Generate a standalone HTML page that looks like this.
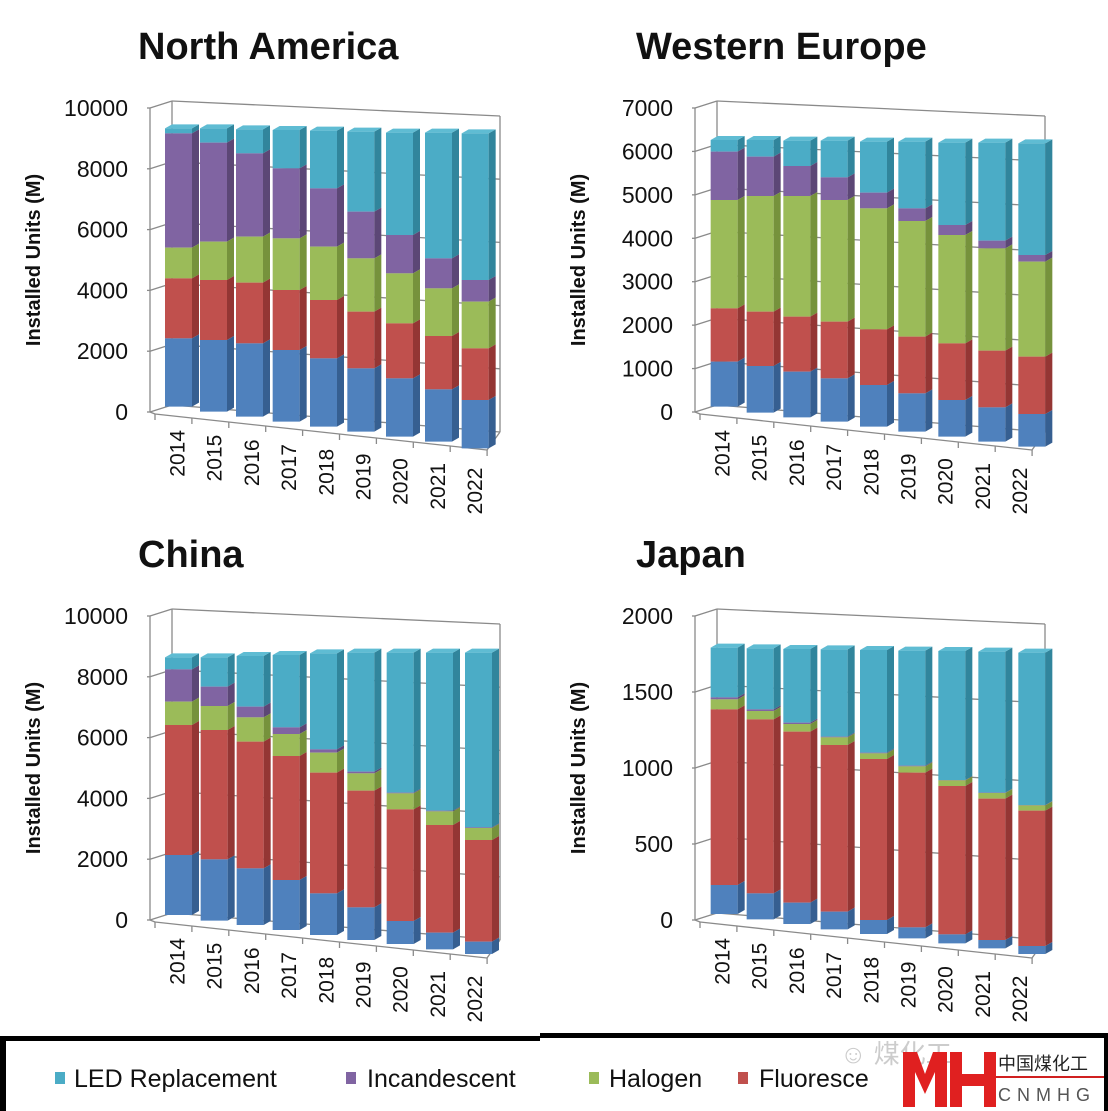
<!DOCTYPE html>
<html><head><meta charset="utf-8"><style>
html,body{margin:0;padding:0;background:#fff;width:1108px;height:1111px;overflow:hidden}
svg{display:block}
text{font-family:"Liberation Sans",sans-serif}
</style></head><body>
<svg id="s" width="1108" height="1111" xmlns="http://www.w3.org/2000/svg"></svg>
<script>
const S=document.getElementById('s');let h='';
const C={c:['#4bacc6','#31859c','#5fbcd3'],p:['#8064a2','#5c4776','#9479b5'],g:['#9bbb59','#76923c','#aecb70'],r:['#c0504d','#943634','#d0625f'],b:['#4f81bd','#365f91','#6690c8']};
const order=['c','p','g','r','b'];
function poly(pts,f){h+=`<polygon points="${pts.map(p=>p.join(',')).join(' ')}" fill="${f}"/>`;}
function line(x1,y1,x2,y2,c='#8a8a8a',w=1.3){h+=`<line x1="${x1}" y1="${y1}" x2="${x2}" y2="${y2}" stroke="${c}" stroke-width="${w}"/>`;}
function text(x,y,t,o){h+=`<text x="${x}" y="${y}" ${o||''}>${t}</text>`;}
function axes(dx,dy,labels,title,tx){
  text(tx,59+dy,title,'font-size="38" font-weight="bold" fill="#111"');
  h+=`<text transform="translate(${40+dx},${260+dy}) rotate(-90)" text-anchor="middle" font-size="20" font-weight="bold" fill="#111">Installed Units (M)</text>`;
  const n=labels.length-1;
  for(let k=0;k<=n;k++){
    const f=k/n;
    const yl=412-f*304+dy;
    const bl=405-f*304+dy, br=432-f*316+dy;
    line(147+dx,yl,150+dx,yl);
    line(150+dx,yl,172+dx,bl);
    line(172+dx,bl,500+dx,br);
    text(128+dx,yl+8,labels[k],'text-anchor="end" font-size="23" fill="#111"');
  }
  line(150+dx,108+dy,150+dx,412+dy);
  line(172+dx,101+dy,172+dx,405+dy);
  line(155+dx,414+dy,487+dx,450+dy);
  line(487+dx,450+dy,500+dx,432+dy);
  line(500+dx,116+dy,500+dx,432+dy);
  line(150+dx,412+dy,155+dx,414+dy);
  for(let i=0;i<=9;i++){const x=155+i*36.9,y=414+i*4;line(x+dx,y+dy,x+dx,y+6+dy);}
  for(let i=0;i<9;i++){
    const x=178+i*37.2+dx,y=430+i*4.7+dy;
    h+=`<text transform="translate(${x},${y}) rotate(-90)" text-anchor="end" dominant-baseline="central" font-size="21" fill="#111">${2014+i}</text>`;
  }
}
function bars(ox,oy,xs,data){
  for(let i=0;i<9;i++){
    const xl=ox+xs[i]/3,w=27,sd=7,up=4;
    const d=data[i].map(v=>oy+v/3);
    for(let k=0;k<5;k++){
      const y1=d[k],y2=d[k+1];if(y2-y1<0.2)continue;
      const col=C[order[k]];
      poly([[xl,y1],[xl+w,y1],[xl+w,y2],[xl,y2]],col[0]);
      poly([[xl+w,y1],[xl+w+sd,y1-up],[xl+w+sd,y2-up],[xl+w,y2]],col[1]);
    }
    const t=d[0];const tc=order.find((o,k)=>d[k+1]-d[k]>0.2);
    poly([[xl,t],[xl+sd,t-up],[xl+w+sd,t-up],[xl+w,t]],C[tc][2]);
  }
}
axes(0,0,['0','2000','4000','6000','8000','10000'],'North America',138);
axes(545,0,['0','1000','2000','3000','4000','5000','6000','7000'],'Western Europe',636);
axes(0,508,['0','2000','4000','6000','8000','10000'],'China',138);
axes(545,508,['0','500','1000','1500','2000'],'Japan',636);
bars(140,90,[75,180,288,398,510,622,738,855,965],[
[115,130,473,565,745,950],[115,158,455,570,750,965],[118,190,440,578,760,980],[120,235,445,600,780,995],[122,295,470,630,805,1010],[125,365,505,665,835,1025],[128,435,550,700,865,1040],[128,505,595,738,898,1055],[130,570,635,775,930,1075]]);
bars(690,90,[62,170,280,392,510,625,745,865,985],[
[150,185,330,655,815,950],[150,200,318,665,828,968],[152,228,318,680,845,982],[152,262,330,695,865,995],[155,308,355,718,885,1010],[155,355,393,740,910,1025],[158,405,435,760,930,1040],[158,452,475,782,952,1055],[160,495,515,800,972,1070]]);
bars(140,600,[75,182,290,398,510,622,740,858,975],[
[172,208,305,375,765,945],[172,260,318,390,778,962],[168,320,352,425,805,975],[165,382,402,468,840,990],[160,448,458,518,880,1005],[158,515,520,572,922,1020],[158,578,580,628,963,1032],[158,632,634,675,998,1048],[158,682,684,720,1025,1062]]);
bars(690,600,[62,170,280,392,510,625,745,865,985],[
[143,292,298,328,855,942],[145,328,333,358,880,958],[147,368,372,395,908,972],[148,410,412,435,935,988],[150,458,460,477,960,1002],[152,497,499,518,982,1015],[153,540,541,558,1003,1030],[155,578,579,596,1020,1045],[158,615,616,632,1038,1062]]);
// legend
h+=`<rect x="0" y="1036" width="1108" height="80" fill="#fff"/>`;
h+=`<rect x="0" y="1036" width="540" height="5" fill="#000"/><rect x="540" y="1033" width="568" height="5" fill="#000"/>`;
h+=`<rect x="0" y="1036" width="6" height="80" fill="#000"/><rect x="1104" y="1033" width="4" height="80" fill="#000"/>`;
[['#4bacc6',55,74,'LED Replacement'],['#8064a2',346,367,'Incandescent'],['#9bbb59',589,609,'Halogen'],['#c0504d',738,759,'Fluoresce']].forEach(([c,sx,tx,t])=>{
  h+=`<rect x="${sx}" y="1072" width="10" height="12" fill="${c}"/>`;
  h+=`<text x="${tx}" y="1087" font-size="25" fill="#111">${t}</text>`;
});
// watermark
h+=`<text x="840" y="1063" font-size="26" fill="#ccc" font-family="Liberation Sans,Noto Sans CJK SC,sans-serif">☺ 煤化工</text>`;
h+=`<path d="M903 1052h14l8 22 8-22h14v55h-12v-35l-10 22-10-22v35h-12z" fill="#e02020"/>`;
h+=`<path d="M950 1052h12v22h22v-22h12v55h-12v-21h-22v21h-12z" fill="#e02020"/>`;
h+=`<text x="998" y="1070" font-size="18" fill="#222" font-family="Noto Sans CJK SC,sans-serif">中国煤化工</text>`;
h+=`<rect x="996" y="1076" width="108" height="2" fill="#d02020"/>`;
h+=`<text x="998" y="1101" font-size="18" letter-spacing="6" fill="#555">CNMHG</text>`;
S.innerHTML=h;
</script>
</body></html>
